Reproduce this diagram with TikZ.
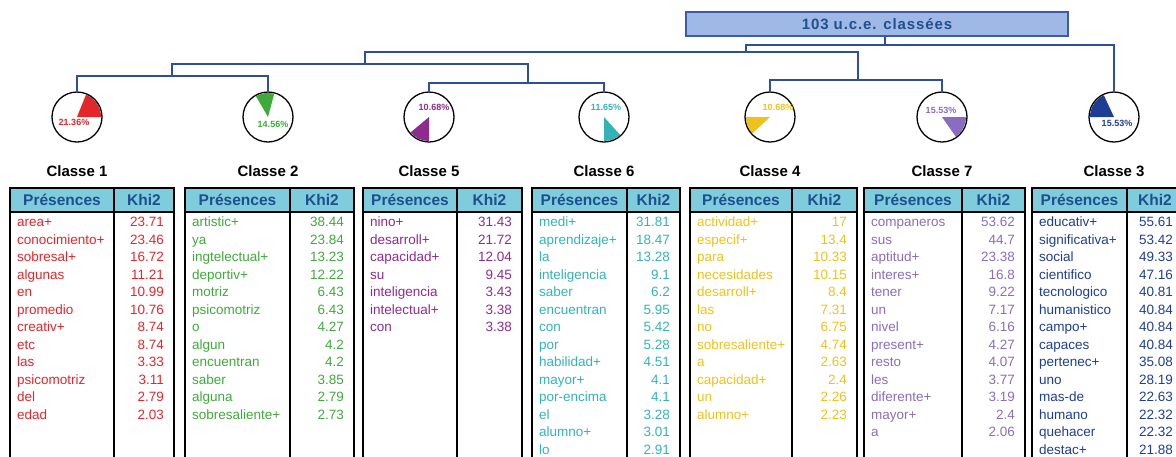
\documentclass[tikz,border=0pt]{standalone}
\usepackage{fontspec}
\setmainfont{Liberation Sans}
\newfontfamily\boxfont[LetterSpace=6]{Liberation Sans}

\definecolor{cone}{HTML}{E3262A}
\definecolor{ctwo}{HTML}{3FAA3A}
\definecolor{cfive}{HTML}{8E2B8E}
\definecolor{csix}{HTML}{33B3B8}
\definecolor{cfour}{HTML}{EEC21A}
\definecolor{cseven}{HTML}{8A6CC0}
\definecolor{cthree}{HTML}{1E3E96}
\definecolor{dendroblue}{HTML}{2F4F9E}
\definecolor{boxfill}{HTML}{A0B8E6}
\definecolor{boxborder}{HTML}{3D5BA9}
\definecolor{headfill}{HTML}{7FCCDD}
\definecolor{headblue}{HTML}{1E4F8E}

\tikzset{
  dendro/.style={draw=dendroblue, line width=1.6pt},
  rootbox/.style={draw=boxborder, fill=boxfill, line width=1.4pt, minimum width=382pt,
    minimum height=24pt, inner sep=0pt, text=headblue, font=\boxfont\fontsize{15}{17}\selectfont\bfseries},
  pie/.style={circle, draw=black, line width=1.3pt, minimum size=50pt, inner sep=0pt},
  pct/.style={font=\fontsize{9}{10}\selectfont\bfseries, inner sep=0pt},
  classlbl/.style={font=\fontsize{15}{17}\selectfont\bfseries, inner sep=0pt},
  frame/.style={draw=black, line width=1.6pt},
  headtxt/.style={font=\fontsize{15.5}{17}\selectfont\bfseries, text=headblue, inner sep=0pt},
  word/.style={anchor=base west, inner sep=0pt, font=\fontsize{13.5}{14}\selectfont},
  num/.style={anchor=base east, inner sep=0pt, font=\fontsize{13.5}{14}\selectfont},
}

% table: id, left, divider, right, colour, rows
\newcommand{\khitable}[6]{%
  \fill[headfill] (#2,188) rectangle (#4,212);
  \draw[frame] (#2,188) rectangle (#4,480);
  \draw[frame] (#2,212) -- (#4,212);
  \draw[frame] (#3,188) -- (#3,480);
  \node[headtxt] (#1h1) at ({(#2+#3)/2},200) {Présences};
  \node[headtxt] (#1h2) at ({(#3+#4)/2},200) {Khi2};
  \foreach \w/\k [count=\i] in {#6} {
    \node[word, text=#5] (#1w\i) at (#2+7,209+17.5*\i) {\w};
    \node[num, text=#5] (#1k\i) at (#4-10,209+17.5*\i) {\k};
  }
}

\begin{document}
\begin{tikzpicture}[x=1pt, y=-1pt]
  \useasboundingbox (0,0) rectangle (1176,456);
  \clip (0,0) rectangle (1176,456);

  \node[rootbox] (top) at (877,24) {103 u.c.e. classées};

  % pies: wedge first, then the circle on top
  \foreach \n/\x/\a/\b/\col in {1/77/0/68/cone, 2/268/75/120/ctwo, 5/429/220/270/cfive,
      6/604/270/312/csix, 4/770/180/223/cfour, 7/942/305/360/cseven, 3/1114/115/180/cthree} {
    \fill[\col] (\x,117) -- +(\a:24pt) arc[start angle=\a, end angle=\b, radius=24pt] -- cycle;
    \node[pie] (c\n) at (\x,117) {};
    \node[classlbl] (l\n) at (\x,171) {Classe \n};
  }

  % percentages
  \node[pct, text=cone] (p1) at (74,122) {21.36\%};
  \node[pct, text=ctwo] (p2) at (273,124) {14.56\%};
  \node[pct, text=cfive] (p5) at (434,107) {10.68\%};
  \node[pct, text=csix] (p6) at (606,107) {11.65\%};
  \node[pct, text=cfour] (p4) at (778,107) {10.68\%};
  \node[pct, text=cseven] (p7) at (941,110) {15.53\%};
  \node[pct, text=cthree] (p3) at (1117,123) {15.53\%};

  % dendrogram
  \coordinate (m12) at (172,76);
  \coordinate (m56) at (528,83);
  \coordinate (m47) at (858,80);
  \coordinate (m1256) at (365,64);
  \coordinate (mL) at (746,52);
  \coordinate (mR) at (885,45);
  \draw[dendro] (c1.north) |- (m12) -| (c2.north);
  \draw[dendro] (c5.north) |- (m56) -| (c6.north);
  \draw[dendro] (c4.north) |- (m47) -| (c7.north);
  \draw[dendro] (m12) |- (m1256) -| (m56);
  \draw[dendro] (m1256) |- (mL) -| (m47);
  \draw[dendro] (mL) |- (mR) -| (c3.north);
  \draw[dendro] (mR) -- (top.south -| mR);

  % tables
  \khitable{ta}{10}{114}{174}{cone}{area+/23.71, conocimiento+/23.46, sobresal+/16.72,
    algunas/11.21, en/10.99, promedio/10.76, creativ+/8.74, etc/8.74, las/3.33,
    psicomotriz/3.11, del/2.79, edad/2.03}
  \khitable{tb}{185}{290}{354}{ctwo}{artistic+/38.44, ya/23.84, ingtelectual+/13.23,
    deportiv+/12.22, motriz/6.43, psicomotriz/6.43, o/4.27, algun/4.2, encuentran/4.2,
    saber/3.85, alguna/2.79, sobresaliente+/2.73}
  \khitable{tc}{363}{457}{522}{cfive}{nino+/31.43, desarroll+/21.72, capacidad+/12.04,
    su/9.45, inteligencia/3.43, intelectual+/3.38, con/3.38}
  \khitable{td}{532}{627}{680}{csix}{medi+/31.81, aprendizaje+/18.47, la/13.28,
    inteligencia/9.1, saber/6.2, encuentran/5.95, con/5.42, por/5.28, habilidad+/4.51,
    mayor+/4.1, por-encima/4.1, el/3.28, alumno+/3.01, lo/2.91}
  \khitable{te}{690}{792}{857}{cfour}{actividad+/17, especif+/13.4, para/10.33,
    necesidades/10.15, desarroll+/8.4, las/7.31, no/6.75, sobresaliente+/4.74, a/2.63,
    capacidad+/2.4, un/2.26, alumno+/2.23}
  \khitable{tf}{864}{962}{1025}{cseven}{companeros/53.62, sus/44.7, aptitud+/23.38,
    interes+/16.8, tener/9.22, un/7.17, nivel/6.16, present+/4.27, resto/4.07, les/3.77,
    diferente+/3.19, mayor+/2.4, a/2.06}
  \khitable{tg}{1032}{1127}{1183}{cthree}{educativ+/55.61, significativa+/53.42,
    social/49.33, cientifico/47.16, tecnologico/40.81, humanistico/40.84, campo+/40.84,
    capaces/40.84, pertenec+/35.08, uno/28.19, mas-de/22.63, humano/22.32,
    quehacer/22.32, destac+/21.88}
\end{tikzpicture}
\end{document}
